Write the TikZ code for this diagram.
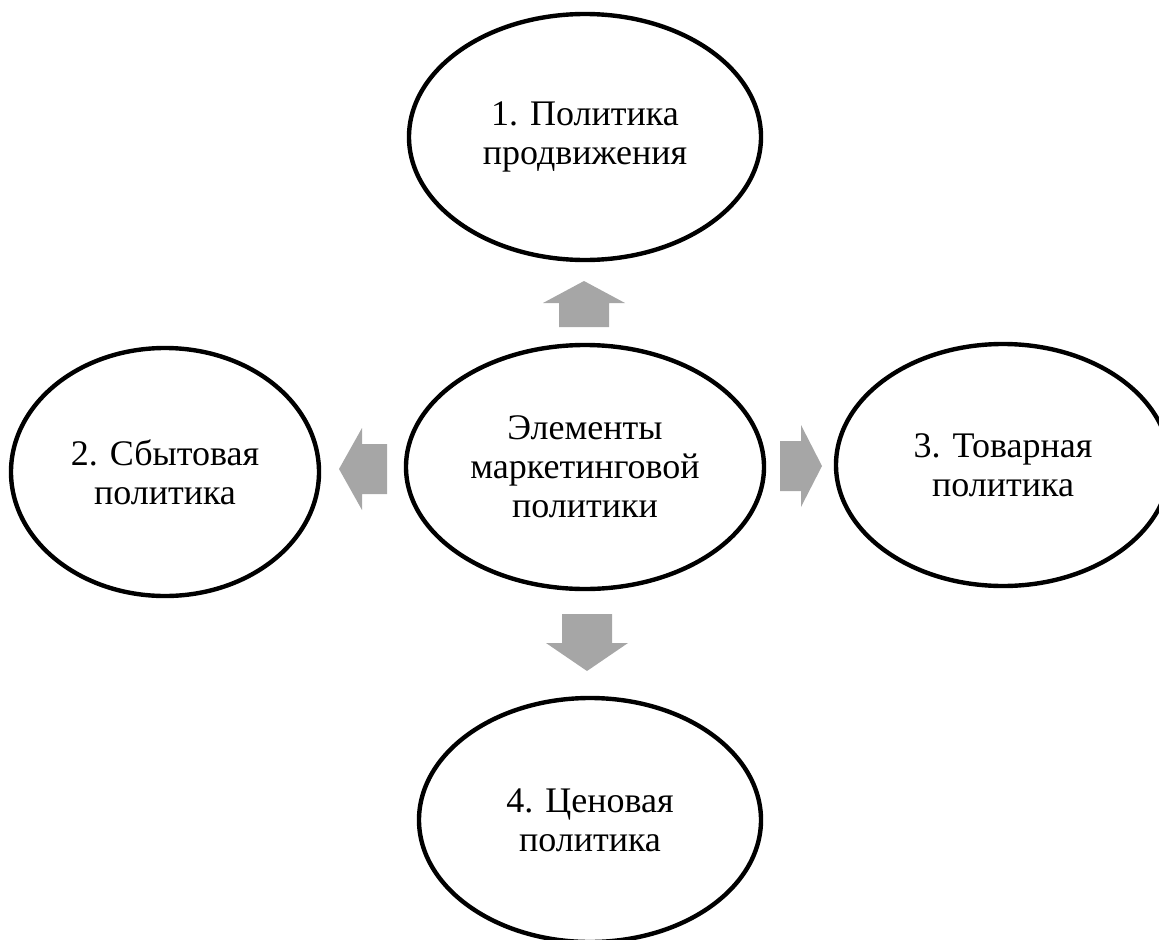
\documentclass[tikz,border=0pt]{standalone}
\usepackage{fontspec}
\setmainfont{Liberation Serif}
\usetikzlibrary{shapes.geometric}
\definecolor{arrowgray}{RGB}{166,166,166}
\tikzset{
  oval/.style={ellipse, draw=black, line width=4.4bp, fill=white, inner sep=0pt,
    align=center, font=\fontsize{36bp}{39bp}\selectfont},
  pics/barrow/.style args={#1/#2}{code={
    \fill[arrowgray] (0,-25) -- (#1-#2,-25) -- (#1-#2,-41) -- (#1,0)
      -- (#1-#2,41) -- (#1-#2,25) -- (0,25) -- cycle;}}
}
\begin{document}
\begin{tikzpicture}[x=1bp,y=-1bp]
\useasboundingbox (0,0) rectangle (1159,940);
\clip (0,0) rectangle (1159,940);
\node[oval, minimum width=352bp, minimum height=246bp] (t) at (585,137) {1. Политика\\продвижения};
\node[oval, minimum width=358bp, minimum height=244bp] (c) at (585,467) {Элементы\\маркетинговой\\политики};
\node[oval, minimum width=308bp, minimum height=248bp] (l) at (165,472) {2. Сбытовая\\политика};
\node[oval, minimum width=334bp, minimum height=242bp] (r) at (1003,465) {3. Товарная\\политика};
\node[oval, minimum width=342bp, minimum height=244bp] (b) at (590,820) {4. Ценовая\\политика};
\coordinate (au) at (584,327);
\coordinate (al) at (387,469);
\coordinate (ar) at (780,466);
\coordinate (ad) at (587,614);
\pic[rotate=90] at (au) {barrow=46/22};
\pic[rotate=180] at (al) {barrow=48/23};
\pic at (ar) {barrow=42/21};
\pic[rotate=-90] at (ad) {barrow=57/28};
\end{tikzpicture}
\end{document}
